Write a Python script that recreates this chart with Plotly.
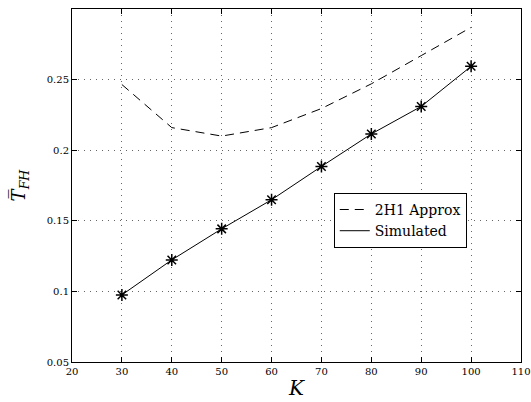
import plotly.graph_objects as go

K = [30, 40, 50, 60, 70, 80, 90, 100]
approx_2h1 = [0.2465, 0.2160, 0.2100, 0.2160, 0.2295, 0.2470, 0.2670, 0.2870]
simulated = [0.0975, 0.1223, 0.1443, 0.1649, 0.1885, 0.2115, 0.2310, 0.2594]

x_ticks = [20, 30, 40, 50, 60, 70, 80, 90, 100, 110]
y_ticks = [0.05, 0.1, 0.15, 0.2, 0.25]
y_tick_labels = ["0.05", "0.1", "0.15", "0.2", "0.25"]

FONT = "DejaVu Serif"

fig = go.Figure()
fig.add_trace(go.Scatter(
    x=K, y=approx_2h1, mode="lines", name="2H1 Approx",
    line=dict(color="black", width=1, dash="9px,6px"),
))
fig.add_trace(go.Scatter(
    x=K, y=simulated, mode="lines+markers", name="Simulated",
    showlegend=False,
    line=dict(color="black", width=1),
    marker=dict(symbol="asterisk-open", size=10, color="black",
                line=dict(color="black", width=1.5)),
))
fig.add_trace(go.Scatter(
    x=[None], y=[None], mode="lines", name="Simulated",
    line=dict(color="black", width=1),
))

axis_common = dict(
    showline=True, linecolor="black", linewidth=1, mirror="ticks",
    ticks="inside", ticklen=5, tickcolor="black", tickwidth=1,
    showgrid=True, gridcolor="#666666", griddash="1px,5px", gridwidth=1,
    zeroline=False, automargin=False,
    tickfont=dict(family=FONT, size=10, color="black"),
)

fig.update_xaxes(
    range=[20, 110], tickvals=x_ticks, ticktext=[str(v) for v in x_ticks],
    title=dict(text="<i>K</i>", font=dict(family=FONT, size=20, color="black"), standoff=4),
    **axis_common,
)
fig.update_yaxes(
    range=[0.05, 0.3], tickvals=y_ticks, ticktext=y_tick_labels,
    title=dict(text="<i>T\u0305</i><sub><i>FH</i></sub>", font=dict(family=FONT, size=18, color="black"), standoff=16),
    **axis_common,
)

fig.update_layout(
    width=531, height=402,
    margin=dict(l=72, r=10, t=9, b=40),
    plot_bgcolor="white", paper_bgcolor="white",
    font=dict(family=FONT, color="black"),
    legend=dict(
        x=0.583, y=0.479, xanchor="left", yanchor="top",
        bordercolor="black", borderwidth=1, bgcolor="white",
        font=dict(family=FONT, size=14, color="black"),
        tracegroupgap=0, itemwidth=30,
    ),
)

fig.write_html(
    "out.html",
    config={"displayModeBar": False},
    post_script="document.body.style.margin='0';document.body.style.overflow='hidden';",
)
